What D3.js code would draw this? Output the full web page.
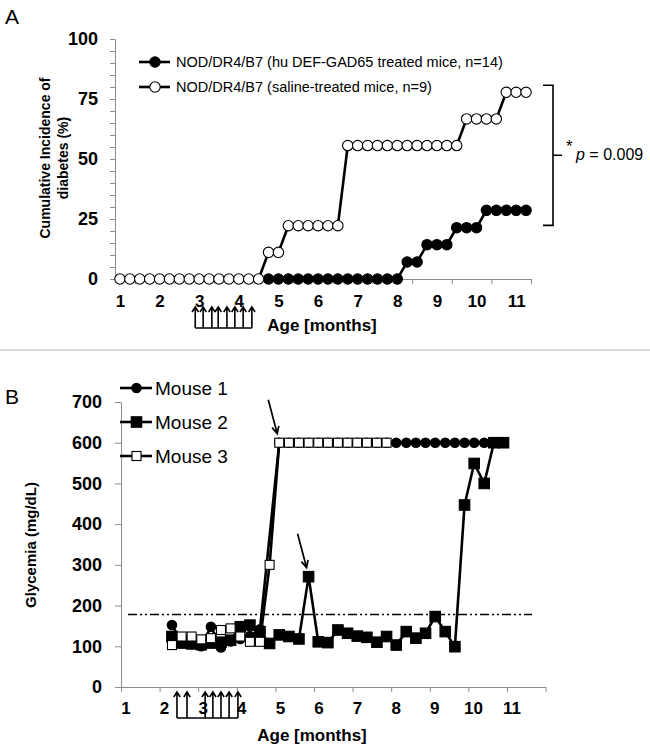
<!DOCTYPE html>
<html><head><meta charset="utf-8">
<script src="https://cdn.jsdelivr.net/npm/d3@7"></script>
<style>
body{margin:0;background:#fff;}
svg{display:block;font-family:"Liberation Sans",Arial,sans-serif;}
</style></head><body>
<svg id="c" width="650" height="750"></svg>
<script>
// ---------- Panel A data (weekly categories) ----------
const monthLabelsA = ["1","2","3","4","5","6","7","8","9","10","11"];
const treatedA = [null,null,null,null,null,null,null,null,null,null,null,null,null,null,null,
  0,0,0,0,0,0,0,0,0,0,0,0,0,0,7.1,7.1,14.3,14.3,14.3,21.4,21.4,21.4,28.6,28.6,28.6,28.6,28.6];
const salineA = [0,0,0,0,0,0,0,0,0,0,0,0,0,0,0,11.1,11.1,22.2,22.2,22.2,22.2,22.2,22.2,
  55.6,55.6,55.6,55.6,55.6,55.6,55.6,55.6,55.6,55.6,55.6,55.6,66.7,66.7,66.7,66.7,77.8,77.8,77.8];
const yTicksA = [0,25,50,75,100];
const legendA = ["NOD/DR4/B7 (hu DEF-GAD65 treated mice, n=14)","NOD/DR4/B7 (saline-treated mice, n=9)"];
const injectionsA = [2.90,3.10,3.32,3.48,3.70,3.90,4.11,4.33]; // months
const pText = "= 0.009";

// ---------- Panel B data ----------
const monthLabelsB = ["1","2","3","4","5","6","7","8","9","10","11"];
const agesB = [2.32,2.57,2.83,3.08,3.33,3.59,3.84,4.09,4.34,4.60,4.85,5.10,5.35,5.61,5.86,6.11,6.36,6.62,
  6.87,7.12,7.37,7.63,7.88,8.13,8.39,8.64,8.89,9.14,9.40,9.65,9.90,10.15,10.41,10.66,10.91];
const mouse1 = [152,110,105,100,148,97,112,118,125,142,null,
  600,600,600,600,600,600,600,600,600,600,600,600,600,600,600,600,600,600,600,600,600,600,600,600];
const mouse2 = [124,108,106,104,108,110,115,148,152,136,107,128,124,118,271,111,109,140,132,125,
  122,110,124,103,136,120,132,173,136,99,447,549,500,600,600];
const mouse3 = [103,124,124,117,120,140,144,124,111,111,300,600,600,600,600,600,600,600,600,600,600,600,600];
const yTicksB = [0,100,200,300,400,500,600,700];
const legendB = ["Mouse 1","Mouse 2","Mouse 3"];
const thresholdB = 178;
const injectionsB = [2.45,2.71,3.18,3.38,3.59,3.80,4.03];

const svg = d3.select("#c");
const AX = "#8c8c8c";

// Panel labels & separator
svg.append("text").attr("x",5).attr("y",24).attr("font-size",21).text("A");
svg.append("text").attr("x",5).attr("y",404).attr("font-size",21).text("B");
svg.append("line").attr("x1",0).attr("x2",650).attr("y1",350).attr("y2",350).attr("stroke","#b5b5b5").attr("stroke-width",1);

// =============== PANEL A ===============
const xA = d3.scaleLinear().domain([-0.5,41.5]).range([115,531]);
const yA = d3.scaleLinear().domain([0,100]).range([279,39]);
const gA = svg.append("g");

// y axis
const yAxA = gA.append("g").attr("transform","translate(115,0)")
  .call(d3.axisLeft(yA).tickValues(d3.range(0,101,5)).tickSize(5).tickSizeOuter(0).tickPadding(12)
  .tickFormat(d => yTicksA.includes(d) ? d : ""));
// x axis
const xAxA = gA.append("g").attr("transform","translate(0,279)")
  .call(d3.axisBottom(xA).tickValues(d3.range(1.5,42,4)).tickSize(5).tickSizeOuter(0).tickFormat(""));
const xLabA = gA.append("g").attr("transform","translate(0,279)")
  .call(d3.axisBottom(xA).tickValues(monthLabelsA.map((d,i)=>4*i)).tickSize(0).tickPadding(16)
  .tickFormat((d,i)=>monthLabelsA[i]));
xLabA.select(".domain").remove();
[yAxA,xAxA].forEach(g=>{g.selectAll("path,line").attr("stroke",AX);});
yAxA.selectAll("text").attr("font-size",18).attr("font-weight","bold").attr("fill","#000").attr("font-family","Liberation Sans, Arial, sans-serif");
xLabA.selectAll("text").attr("font-size",17).attr("font-weight","bold").attr("fill","#000").attr("font-family","Liberation Sans, Arial, sans-serif");

gA.append("text").attr("x",322).attr("y",331).attr("text-anchor","middle")
  .attr("font-size",17).attr("font-weight","bold").text("Age [months]");
const ytA = gA.append("text").attr("transform","translate(50,158) rotate(-90)").attr("text-anchor","middle")
  .attr("font-size",14).attr("font-weight","bold");
ytA.append("tspan").attr("x",0).attr("dy",0).text("Cumulative Incidence of");
ytA.append("tspan").attr("x",0).attr("dy",18).text("diabetes (%)");

// lines
const lineA = d3.line().defined(d=>d!=null).x((d,i)=>xA(i)).y(d=>yA(d));
function drawSeriesA(vals, fill){
  gA.append("path").datum(vals).attr("d",lineA).attr("fill","none").attr("stroke","#000").attr("stroke-width",2.6);
  gA.append("g").selectAll("circle").data(vals.map((v,i)=>({v,i})).filter(d=>d.v!=null)).join("circle")
    .attr("cx",d=>xA(d.i)).attr("cy",d=>yA(d.v)).attr("r",5.2)
    .attr("fill",fill).attr("stroke","#000").attr("stroke-width",1.1);
}
drawSeriesA(treatedA,"#000");
drawSeriesA(salineA,"#fff");

// legend A
legendA.forEach((t,i)=>{
  const y = 62 + i*25;
  gA.append("line").attr("x1",139).attr("x2",170).attr("y1",y).attr("y2",y).attr("stroke","#000").attr("stroke-width",2.6);
  gA.append("circle").attr("cx",155).attr("cy",y).attr("r",5.2).attr("fill",i===0?"#000":"#fff").attr("stroke","#000").attr("stroke-width",1.1);
  gA.append("text").attr("x",176).attr("y",y+5).attr("font-size",14.5).text(t);
});

// significance bracket
const bTop = yA(77.8)-7, bBot = yA(28.6)+15, bMid = (bTop+bBot)/2;
gA.append("path").attr("d",`M543,${bTop}H553V${bBot}H543M553,${bMid}H562`)
  .attr("fill","none").attr("stroke","#000").attr("stroke-width",1.6);
gA.append("text").attr("x",566).attr("y",152).attr("font-size",17).text("*");
const pt = gA.append("text").attr("x",576).attr("y",160).attr("font-size",16);
pt.append("tspan").attr("font-style","italic").text("p");
pt.append("tspan").text(" "+pText);

// injection arrows
function injections(g, xs, top, bot){
  g.append("line").attr("x1",d3.min(xs)).attr("x2",d3.max(xs)).attr("y1",bot).attr("y2",bot)
    .attr("stroke","#000").attr("stroke-width",1.6);
  xs.forEach(x=>{
    g.append("path").attr("d",`M${x},${bot}V${top}M${x-3.2},${top+5}L${x},${top}L${x+3.2},${top+5}`)
      .attr("fill","none").attr("stroke","#000").attr("stroke-width",1.6);
  });
}
injections(gA, injectionsA.map(m=>xA(4*(m-1))), 307, 328);

// =============== PANEL B ===============
const xB = d3.scaleLinear().domain([1,12]).range([121,545.6]);
const yB = d3.scaleLinear().domain([0,700]).range([687,402]);
const gB = svg.append("g");

const yAxB = gB.append("g").attr("transform","translate(121,0)")
  .call(d3.axisLeft(yB).tickValues(yTicksB).tickSize(6).tickSizeOuter(0).tickPadding(13));
const xAxB = gB.append("g").attr("transform","translate(0,687)")
  .call(d3.axisBottom(xB).tickValues(d3.range(1,13)).tickSize(5).tickSizeOuter(0).tickFormat(""));
const xLabB = gB.append("g").attr("transform","translate(0,687)")
  .call(d3.axisBottom(xB).tickValues(monthLabelsB.map((d,i)=>i+1)).tickSize(0).tickPadding(15)
  .tickFormat((d,i)=>monthLabelsB[i]));
xLabB.select(".domain").remove();
xLabB.selectAll("text").attr("x",4.5);
[yAxB,xAxB].forEach(g=>{g.selectAll("path,line").attr("stroke",AX);});
yAxB.selectAll("text").attr("font-size",18).attr("font-weight","bold").attr("fill","#000").attr("font-family","Liberation Sans, Arial, sans-serif");
xLabB.selectAll("text").attr("font-size",17).attr("font-weight","bold").attr("fill","#000").attr("font-family","Liberation Sans, Arial, sans-serif");

gB.append("text").attr("x",312).attr("y",741).attr("text-anchor","middle")
  .attr("font-size",17).attr("font-weight","bold").text("Age [months]");
gB.append("text").attr("transform","translate(36,545) rotate(-90)").attr("text-anchor","middle")
  .attr("font-size",15).attr("font-weight","bold").text("Glycemia (mg/dL)");

// threshold line
gB.append("line").attr("x1",128).attr("x2",532).attr("y1",yB(thresholdB)).attr("y2",yB(thresholdB))
  .attr("stroke","#000").attr("stroke-width",1.4).attr("stroke-dasharray","9,3,2,3,2,3");

const lineB = d3.line().x(d=>xB(d.a)).y(d=>yB(d.v));
function pts(vals){ return vals.map((v,i)=>({a:agesB[i],v})).filter(d=>d.v!=null); }
function drawMouse(vals, kind){
  const p = pts(vals);
  gB.append("path").datum(p).attr("d",lineB).attr("fill","none").attr("stroke","#000").attr("stroke-width",2.6);
  const g = gB.append("g");
  if(kind==="circle"){
    g.selectAll("circle").data(p).join("circle").attr("cx",d=>xB(d.a)).attr("cy",d=>yB(d.v)).attr("r",5.3).attr("fill","#000");
  } else {
    const s = kind==="filled" ? 10.5 : 9;
    g.selectAll("rect").data(p).join("rect").attr("x",d=>xB(d.a)-s/2).attr("y",d=>yB(d.v)-s/2)
      .attr("width",s).attr("height",s).attr("fill",kind==="filled"?"#000":"#fff").attr("stroke","#000").attr("stroke-width",1.1);
  }
}
drawMouse(mouse1,"circle");
drawMouse(mouse2,"filled");
drawMouse(mouse3,"open");

// legend B
legendB.forEach((t,i)=>{
  const y = 388 + i*34;
  gB.append("line").attr("x1",120).attr("x2",152).attr("y1",y).attr("y2",y).attr("stroke","#000").attr("stroke-width",2.6);
  if(i===0) gB.append("circle").attr("cx",136.5).attr("cy",y).attr("r",5.3).attr("fill","#000");
  else gB.append("rect").attr("x",136.5-(i===1?5.25:4.5)).attr("y",y-(i===1?5.25:4.5))
    .attr("width",i===1?10.5:9).attr("height",i===1?10.5:9).attr("fill",i===1?"#000":"#fff").attr("stroke","#000").attr("stroke-width",1.1);
  gB.append("text").attr("x",155).attr("y",y+7).attr("font-size",19).text(t);
});

// pointer arrows
function pointer(age, val){
  const tx = xB(age)-2, ty = yB(val)-9;
  const sx = tx-9, sy = ty-34;
  const ang = Math.atan2(ty-sy, tx-sx);
  const L=8, w=0.45;
  gB.append("path").attr("d",`M${sx},${sy}L${tx},${ty}M${tx-L*Math.cos(ang-w)},${ty-L*Math.sin(ang-w)}L${tx},${ty}L${tx-L*Math.cos(ang+w)},${ty-L*Math.sin(ang+w)}`)
    .attr("fill","none").attr("stroke","#000").attr("stroke-width",1.7);
}
pointer(agesB[11], mouse3[11]);
pointer(agesB[14], mouse2[14]);

injections(gB, injectionsB.map(m=>xB(m)), 692, 718);
</script>
</body></html>
